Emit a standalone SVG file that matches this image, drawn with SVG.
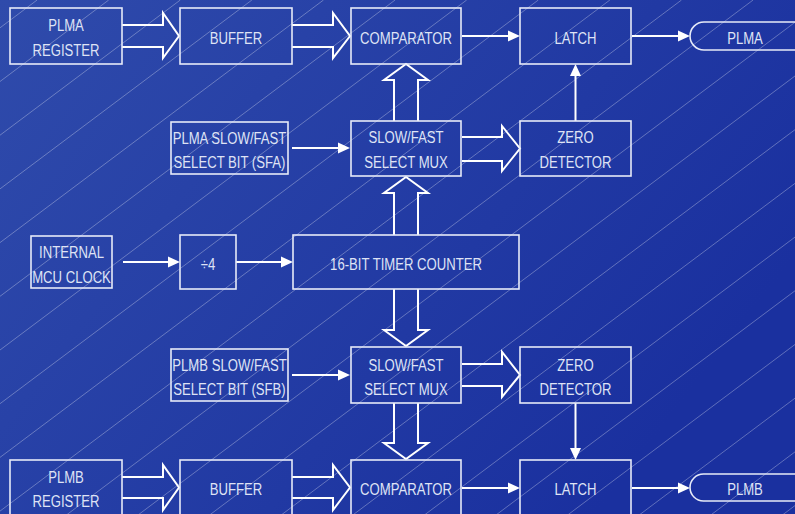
<svg xmlns="http://www.w3.org/2000/svg" width="795" height="514" viewBox="0 0 795 514">
<defs>
<linearGradient id="bg" x1="0" y1="0" x2="1" y2="0.5">
<stop offset="0" stop-color="#2f4bab"/>
<stop offset="1" stop-color="#1a309f"/>
</linearGradient>
<style>
.box{fill:none;stroke:#e6eaf8;stroke-width:1.6}
.fat{fill:none;stroke:#ffffff;stroke-width:2;stroke-linejoin:miter}
.ln{fill:none;stroke:#ffffff;stroke-width:2}
.hd{fill:#ffffff;stroke:none}
.hatch{stroke:#ffffff;stroke-opacity:0.3;stroke-width:1}
text{font-family:"Liberation Sans",Arial,sans-serif;font-size:16px;fill:#dfe3f5;text-anchor:middle}
</style>
</defs>
<rect x="0" y="0" width="795" height="514" fill="url(#bg)"/>
<g id="hatch" class="hatch">
<line x1="0" y1="27.8" x2="37.1" y2="0"/>
<line x1="0" y1="81.5" x2="108.7" y2="0"/>
<line x1="0" y1="135.2" x2="180.3" y2="0"/>
<line x1="0" y1="188.9" x2="251.9" y2="0"/>
<line x1="0" y1="242.6" x2="323.5" y2="0"/>
<line x1="0" y1="296.3" x2="395.1" y2="0"/>
<line x1="0" y1="350" x2="466.7" y2="0"/>
<line x1="0" y1="403.7" x2="538.3" y2="0"/>
<line x1="0" y1="457.4" x2="609.9" y2="0"/>
<line x1="0" y1="511.1" x2="681.5" y2="0"/>
<line x1="0" y1="564.8" x2="753.1" y2="0"/>
<line x1="0" y1="618.5" x2="824.7" y2="0"/>
<line x1="0" y1="672.2" x2="896.3" y2="0"/>
<line x1="0" y1="725.9" x2="967.9" y2="0"/>
<line x1="0" y1="779.6" x2="1039.5" y2="0"/>
<line x1="0" y1="833.3" x2="1111.1" y2="0"/>
<line x1="0" y1="887" x2="1182.7" y2="0"/>
<line x1="0" y1="940.7" x2="1254.3" y2="0"/>
<line x1="0" y1="994.4" x2="1325.9" y2="0"/>
<line x1="0" y1="1048.1" x2="1397.5" y2="0"/>
<line x1="0" y1="1101.8" x2="1469.1" y2="0"/>
</g>
<g id="connectors">
<path class="fat" d="M122,25 H163 V13 L179,36 L163,58 V47 H122"/>
<path class="fat" d="M292,25 H333 V13 L350,36 L333,58 V47 H292"/>
<path class="fat" d="M122,477 H163 V465 L179,487.5 L163,510 V498 H122"/>
<path class="fat" d="M292,477 H333 V465 L350,487.5 L333,510 V498 H292"/>
<path class="fat" d="M462,137 H502 V126 L520,148.5 L502,171 V161 H462"/>
<path class="fat" d="M462,364 H502 V352 L520,375 L502,397 V386 H462"/>
<path class="fat" d="M394,121 V80 H384 L406,64 L428,80 H418 V121"/>
<path class="fat" d="M394,235 V193 H384 L406,177 L428,193 H418 V235"/>
<path class="fat" d="M394,289 V330 H384 L406,346 L428,330 H418 V289"/>
<path class="fat" d="M394,403 V443 H384 L406,459 L428,443 H418 V403"/>
<path class="ln" d="M462,36 H509"/><polygon class="hd" points="508,30.5 520,36 508,41.5"/>
<path class="ln" d="M632,36 H679"/><polygon class="hd" points="678,30.5 690,36 678,41.5"/>
<path class="ln" d="M292,148 H339"/><polygon class="hd" points="338,142.5 350,148 338,153.5"/>
<path class="ln" d="M575.5,121 V75"/><polygon class="hd" points="570,76 575.5,64 581,76"/>
<path class="ln" d="M123,262 H169"/><polygon class="hd" points="168,256.5 180,262 168,267.5"/>
<path class="ln" d="M236,262 H282"/><polygon class="hd" points="281,256.5 293,262 281,267.5"/>
<path class="ln" d="M292,375 H339"/><polygon class="hd" points="338,369.5 350,375 338,380.5"/>
<path class="ln" d="M575.5,403 V449"/><polygon class="hd" points="570,448 575.5,460 581,448"/>
<path class="ln" d="M462,488 H509"/><polygon class="hd" points="508,482.5 520,488 508,493.5"/>
<path class="ln" d="M632,488 H679"/><polygon class="hd" points="678,482.5 690,488 678,493.5"/>
</g>
<g id="plma-register"><rect class="box" x="10" y="8" width="112" height="56"/><text transform="translate(66,31) scale(0.82,1)">PLMA</text><text transform="translate(66,56) scale(0.82,1)">REGISTER</text></g>
<g id="buffer-a"><rect class="box" x="180" y="8" width="112" height="56"/><text transform="translate(236,44) scale(0.82,1)">BUFFER</text></g>
<g id="comparator-a"><rect class="box" x="351" y="8" width="110" height="56"/><text transform="translate(406,44) scale(0.82,1)">COMPARATOR</text></g>
<g id="latch-a"><rect class="box" x="520" y="8" width="111" height="56"/><text transform="translate(575.5,44) scale(0.82,1)">LATCH</text></g>
<g id="plma-out"><rect class="box" x="690" y="22" width="140" height="28" rx="14" ry="14"/><text transform="translate(745,44) scale(0.82,1)">PLMA</text></g>
<g id="sfa"><rect class="box" x="171" y="122" width="117" height="52"/><text transform="translate(229.5,144) scale(0.82,1)">PLMA SLOW/FAST</text><text transform="translate(229.5,168) scale(0.82,1)">SELECT BIT (SFA)</text></g>
<g id="mux-a"><rect class="box" x="351" y="121" width="110" height="55"/><text transform="translate(406,143) scale(0.82,1)">SLOW/FAST</text><text transform="translate(406,168) scale(0.82,1)">SELECT MUX</text></g>
<g id="zero-a"><rect class="box" x="520" y="121" width="111" height="55"/><text transform="translate(575.5,143) scale(0.82,1)">ZERO</text><text transform="translate(575.5,168) scale(0.82,1)">DETECTOR</text></g>
<g id="clock"><rect class="box" x="31" y="236" width="81" height="52"/><text transform="translate(71.5,258) scale(0.82,1)">INTERNAL</text><text transform="translate(71.5,283) scale(0.82,1)">MCU CLOCK</text></g>
<g id="div4"><rect class="box" x="180" y="235" width="56" height="54"/><text transform="translate(208,270) scale(0.82,1)">÷4</text></g>
<g id="timer"><rect class="box" x="293" y="235" width="226" height="54"/><text transform="translate(406,270) scale(0.82,1)">16-BIT TIMER COUNTER</text></g>
<g id="sfb"><rect class="box" x="171" y="349" width="117" height="52"/><text transform="translate(229.5,371) scale(0.82,1)">PLMB SLOW/FAST</text><text transform="translate(229.5,395) scale(0.82,1)">SELECT BIT (SFB)</text></g>
<g id="mux-b"><rect class="box" x="351" y="347" width="110" height="56"/><text transform="translate(406,371) scale(0.82,1)">SLOW/FAST</text><text transform="translate(406,395) scale(0.82,1)">SELECT MUX</text></g>
<g id="zero-b"><rect class="box" x="520" y="347" width="111" height="56"/><text transform="translate(575.5,371) scale(0.82,1)">ZERO</text><text transform="translate(575.5,395) scale(0.82,1)">DETECTOR</text></g>
<g id="plmb-register"><rect class="box" x="10" y="460" width="112" height="60"/><text transform="translate(66,483) scale(0.82,1)">PLMB</text><text transform="translate(66,507) scale(0.82,1)">REGISTER</text></g>
<g id="buffer-b"><rect class="box" x="180" y="460" width="112" height="60"/><text transform="translate(236,495) scale(0.82,1)">BUFFER</text></g>
<g id="comparator-b"><rect class="box" x="351" y="460" width="110" height="60"/><text transform="translate(406,495) scale(0.82,1)">COMPARATOR</text></g>
<g id="latch-b"><rect class="box" x="520" y="460" width="111" height="60"/><text transform="translate(575.5,495) scale(0.82,1)">LATCH</text></g>
<g id="plmb-out"><rect class="box" x="690" y="474" width="140" height="27" rx="13.5" ry="13.5"/><text transform="translate(745,495) scale(0.82,1)">PLMB</text></g>
</svg>
